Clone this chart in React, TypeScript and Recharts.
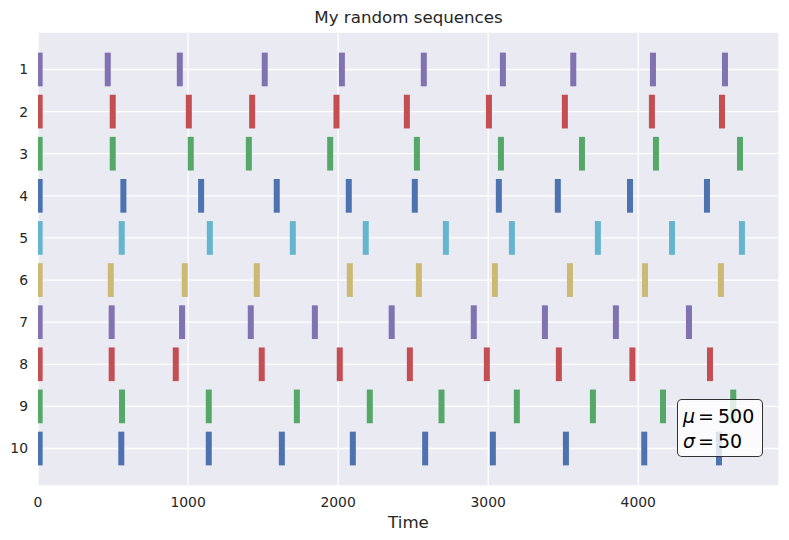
import React from "react";
import { ScatterChart, Scatter, XAxis, YAxis, CartesianGrid } from "recharts";

// Row labels (top to bottom)
const rows = [1, 2, 3, 4, 5, 6, 7, 8, 9, 10];

// Event times for each row
const row1 = [11, 465, 945, 1511, 2025, 2571, 3098, 3567, 4098, 4578];
const row2 = [11, 498, 1005, 1427, 1989, 2458, 3005, 3511, 4091, 4558];
const row3 = [11, 498, 1018, 1405, 1947, 2525, 3085, 3625, 4118, 4678];
const row4 = [11, 569, 1087, 1591, 2071, 2511, 3071, 3464, 3945, 4458];
const row5 = [11, 558, 1145, 1698, 2184, 2718, 3158, 3731, 4225, 4691];
const row6 = [11, 485, 978, 1458, 2078, 2538, 3045, 3545, 4045, 4551];
const row7 = [11, 491, 960, 1418, 1845, 2357, 2904, 3378, 3851, 4338];
const row8 = [11, 491, 918, 1491, 2011, 2478, 2991, 3471, 3961, 4478];
const row9 = [11, 560, 1138, 1725, 2211, 2689, 3191, 3698, 4165, 4633];
const row10 = [11, 555, 1138, 1625, 2098, 2580, 3031, 3518, 4040, 4538];

const series = [row1, row2, row3, row4, row5, row6, row7, row8, row9, row10];

const rowColors = [
  "#8172B2",
  "#C44E52",
  "#55A868",
  "#4C72B0",
  "#64B5CD",
  "#CCB974",
  "#8172B2",
  "#C44E52",
  "#55A868",
  "#4C72B0",
];

const xTicks = [0, 1000, 2000, 3000, 4000];
const xDomain = [0, 4938];
const yDomain = [0.11, 10.89];
const lineLength = 0.8;

const W = 789;
const H = 540;
const M_TOP = 32;
const X_AXIS_H = 54;
const Y_AXIS_W = 38;
const M_RIGHT = 10;
const PLOT_H = H - M_TOP - X_AXIS_H;
const BAR_H = (PLOT_H / (yDomain[1] - yDomain[0])) * lineLength;
const BAR_W = 6;

const FONT = "'DejaVu Sans', sans-serif";
const TEXT = "#262626";

const EventMark = (props: any) => {
  const { cx, cy, fill } = props;
  if (cx == null || cy == null) return null;
  return <rect x={cx - BAR_W / 2} y={cy - BAR_H / 2} width={BAR_W} height={BAR_H} fill={fill} />;
};

export default function App() {
  return (
    <div style={{ position: "absolute", left: 0, top: 0, width: W, height: H, fontFamily: FONT, background: "#fff" }}>
      <div
        style={{
          position: "absolute",
          left: Y_AXIS_W,
          width: W - Y_AXIS_W - M_RIGHT,
          top: 8,
          textAlign: "center",
          fontSize: 16.67,
          color: TEXT,
          lineHeight: "20px",
        }}
      >
        My random sequences
      </div>
      <ScatterChart width={W} height={H} margin={{ top: M_TOP, right: M_RIGHT, bottom: 0, left: 0 }}>
        <CartesianGrid fill="#EAEAF2" stroke="#FFFFFF" strokeWidth={1.3} />
        <XAxis
          type="number"
          dataKey="x"
          domain={xDomain}
          ticks={xTicks}
          allowDataOverflow
          height={X_AXIS_H}
          axisLine={false}
          tickLine={false}
          tickSize={0}
          tickMargin={11}
          tick={{ fill: TEXT, fontSize: 13.9, fontFamily: FONT }}
          label={{ value: "Time", position: "insideBottom", offset: 12, fill: TEXT, fontSize: 16.67, fontFamily: FONT }}
        />
        <YAxis
          type="number"
          dataKey="y"
          domain={yDomain}
          ticks={rows}
          reversed
          allowDataOverflow
          width={Y_AXIS_W}
          axisLine={false}
          tickLine={false}
          tickSize={0}
          tickMargin={10}
          tick={{ fill: TEXT, fontSize: 13.9, fontFamily: FONT }}
        />
        {series.map((s, i) => (
          <Scatter
            key={i}
            data={s.map((x) => ({ x, y: rows[i] }))}
            fill={rowColors[i]}
            shape={EventMark}
            isAnimationActive={false}
          />
        ))}
      </ScatterChart>
      <div
        style={{
          position: "absolute",
          left: 677,
          top: 399,
          width: 84,
          height: 56,
          boxSizing: "content-box",
          border: "1px solid rgba(0,0,0,0.8)",
          borderRadius: 5,
          background: "rgba(255,255,255,0.8)",
          color: "#000",
          fontSize: 19,
          lineHeight: "25px",
          padding: 0,
        }}
      >
        <div style={{ position: "absolute", left: 5, top: 4, whiteSpace: "nowrap" }}>
          <i>μ</i>
          <span style={{ margin: "0 4px 0 3px" }}>=</span>500
        </div>
        <div style={{ position: "absolute", left: 5, top: 29, whiteSpace: "nowrap" }}>
          <i>σ</i>
          <span style={{ margin: "0 4px 0 3px" }}>=</span>50
        </div>
      </div>
    </div>
  );
}
